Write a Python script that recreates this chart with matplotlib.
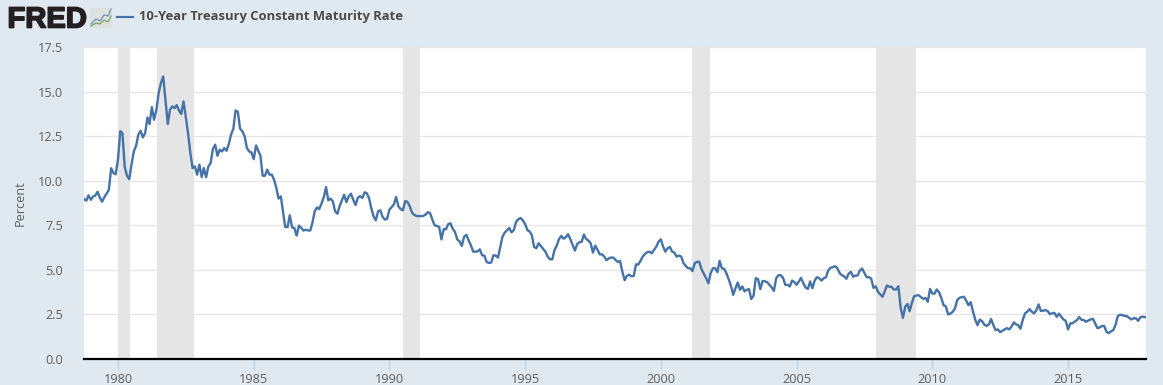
import matplotlib
matplotlib.use("Agg")
import matplotlib.pyplot as plt
import matplotlib.patheffects as pe
from matplotlib.lines import Line2D
from matplotlib.patches import Rectangle
import pandas as pd

W, H = 1163, 385
BG = "#e1e9f0"
LINE = "#4572a7"

start_month = "1978-10-01"
rates_a = [8.97,8.88,9.18,8.93,9.12,9.16,9.38,9.07,8.82,9.07,9.27,9.5,10.7,10.43,10.36,11.18,12.78,12.67,10.77,10.28,
 10.09,10.9,11.64,11.96,12.58,12.8,12.43,12.67,13.55,13.18,14.13,13.42,13.98,14.9,15.48,15.85,14.54,13.18,13.98,14.17,
 14.07,14.24,13.94,13.74,14.45,13.6,12.67,11.55,10.71,10.8,10.34,10.9,10.2,10.71,10.2,10.8,10.99,11.78,12.02,11.4,
 11.74,11.64,11.83,11.68,12.07,12.58,12.9,13.94,13.87,12.92,12.77,12.49,11.83,11.64,11.59,11.21,11.98,11.7,11.4,10.28,
 10.28,10.62,10.34,10.34,10.06,9.6,9.0,9.12,8.19,7.4,7.4,8.06,7.38,7.35,6.92,7.48,7.36,7.2,7.25,7.21]
rates_b = [7.21,7.63,8.28,8.5,8.41,8.71,9.07,9.64,8.9,9.0,8.84,8.28,8.15,8.56,8.9,9.21,8.8,9.12,9.27,8.93,
 8.64,9.03,9.14,9.03,9.35,9.3,9.03,8.47,8.0,7.78,8.28,8.34,7.96,7.82,7.87,8.38,8.53,8.66,9.09,8.57,
 8.4,8.34,8.86,8.81,8.57,8.21,8.08,8.02,8.02,8.02,8.02,8.1,8.23,8.19,7.82,7.5,7.46,7.41,6.71,7.28,
 7.28,7.56,7.61,7.31,7.13,6.71,6.6,6.34,6.85,6.96,6.66,6.38,6.02,6.02,6.04,6.15,5.82,5.8,5.44,5.39,
 5.41,5.82,5.8,5.69,6.29,6.85,7.09,7.22,7.35,7.11,7.22,7.69,7.84,7.91,7.78,7.56,7.22,7.16,6.94,6.29]
rates_c = [6.21,6.49,6.34,6.17,6.02,5.74,5.59,5.59,6.12,6.36,6.73,6.9,6.75,6.83,7.0,6.71,6.4,6.08,6.45,6.55,
 6.58,6.98,6.73,6.64,6.49,5.97,6.36,6.12,5.87,5.87,5.74,5.54,5.65,5.69,5.69,5.56,5.44,5.5,4.9,4.42,
 4.66,4.73,4.64,4.66,5.31,5.29,5.5,5.74,5.89,5.99,6.02,5.93,6.12,6.3,6.58,6.71,6.3,6.02,6.21,6.29,
 6.02,5.97,5.74,5.8,5.74,5.37,5.22,5.09,5.09,4.93,5.37,5.45,5.45,5.04,4.78,4.53,4.25,4.81,5.09,5.09,
 4.87,5.5,5.09,5.06,4.81,4.48,4.1,3.6,3.97,4.29,3.88,4.07,3.79,3.88,3.92,3.37,3.54,4.53,4.48,3.92]
rates_d = [4.38,4.36,4.31,4.16,4.01,3.82,4.53,4.7,4.7,4.57,4.16,4.16,4.07,4.4,4.31,4.16,4.35,4.55,4.25,4.01,
 3.93,4.35,3.97,4.4,4.59,4.53,4.4,4.53,4.59,4.96,5.11,5.15,5.2,5.11,4.83,4.7,4.64,4.5,4.78,4.89,
 4.61,4.68,4.68,4.96,5.07,4.83,4.59,4.59,4.51,3.99,4.08,3.77,3.62,3.49,3.8,4.12,4.05,4.05,3.9,3.9,
 4.08,2.87,2.31,2.93,3.09,2.68,3.15,3.52,3.56,3.58,3.47,3.37,3.43,3.21,3.93,3.67,3.67,3.9,3.75,3.43,
 3.02,2.96,2.5,2.55,2.64,2.83,3.3,3.43,3.47,3.49,3.28,3.02,3.19,2.68,2.21,1.9,2.21,2.12,1.93]
rates_e = [1.86,1.94,2.24,1.9,1.62,1.66,1.51,1.58,1.66,1.73,1.66,1.81,2.05,1.94,1.9,1.7,2.18,2.56,2.65,2.8,
 2.65,2.56,2.74,3.06,2.69,2.71,2.74,2.69,2.52,2.56,2.59,2.37,2.54,2.37,2.22,2.14,1.66,2.0,2.0,2.09,
 2.18,2.35,2.2,2.18,2.09,2.16,2.22,2.26,2.0,1.73,1.77,1.85,1.85,1.53,1.45,1.55,1.62,1.92,2.41,2.48,
 2.46,2.41,2.41,2.31,2.22,2.28,2.29,2.14,2.35,2.37,2.35]
rates = rates_a + rates_b + rates_c + rates_d + rates_e

recession_starts = ["1980-01-01","1981-06-15","1990-07-01","2001-03-01","2007-12-01"]
recession_ends = ["1980-06-15","1982-10-20","1991-02-20","2001-10-20","2009-05-20"]
y_ticks = [0,2.5,5,7.5,10,12.5,15,17.5]
x_tick_years = [1980,1985,1990,1995,2000,2005,2010,2015]
series_name = "10-Year Treasury Constant Maturity Rate"

dates = pd.date_range(start_month, periods=len(rates), freq="MS")

fig = plt.figure(figsize=(W/100, H/100), dpi=100, facecolor=BG)
ax = fig.add_axes([84/W, 1-359/H, (1146-84)/W, (359-47)/H], facecolor="white")

for s, e in zip(recession_starts, recession_ends):
    ax.axvspan(pd.Timestamp(s), pd.Timestamp(e), color="#e5e5e5", lw=0, zorder=1)
ax.plot(dates, rates, color=LINE, lw=1.7, solid_joinstyle="round", zorder=3)

ax.set_xlim(pd.Timestamp("1978-10-01"), pd.Timestamp("2017-11-15"))
ax.set_ylim(0, 17.5)
ax.set_yticks(y_ticks)
ax.set_yticklabels([f"{v:.1f}" for v in y_ticks], fontsize=9.2, color="#606060", family="Open Sans")
ax.set_xticks([pd.Timestamp(f"{y}-01-01") for y in x_tick_years])
ax.set_xticklabels([str(y) for y in x_tick_years], fontsize=9.2, color="#606060", family="Open Sans")
ax.grid(axis="y", color="#e6e6e6", lw=1, zorder=0)
ax.set_axisbelow(True)
ax.tick_params(axis="y", length=0, pad=15)
ax.tick_params(axis="x", length=7, width=1, color="#c0d0e0", pad=3)
for side in ["top", "right", "left"]:
    ax.spines[side].set_visible(False)
ax.spines["bottom"].set_color("black")
ax.spines["bottom"].set_linewidth(1.6)
ax.spines["bottom"].set_zorder(5)
ax.set_ylabel("Percent", fontsize=9.2, color="#606060", family="Open Sans")
ax.yaxis.set_label_coords((27-84)/(1146-84), 0.5)

def fx(x): return x/W
def fy(y): return 1-y/H

fig.text(fx(7.5), fy(27.5), "FRED", fontsize=21, fontweight="bold", family="Liberation Sans",
         color="#231f20", path_effects=[pe.withStroke(linewidth=1.2, foreground="#231f20")])
fig.add_artist(Rectangle((fx(90), fy(28)), 22/W, 20/H, transform=fig.transFigure,
                         facecolor="#dce0de", edgecolor="none"))
fig.add_artist(Line2D([fx(p) for p in (91,96,100,104,108,111)], [fy(p) for p in (24,19,21,15,16,9)],
                      color="#6f93b5", lw=0.9, transform=fig.transFigure))
fig.add_artist(Line2D([fx(p) for p in (91,96,100,104,108,111)], [fy(p) for p in (26,23,24,20,22,16)],
                      color="#7da35a", lw=0.9, transform=fig.transFigure))
fig.add_artist(Line2D([fx(117), fx(133)], [fy(16.5), fy(16.5)], color=LINE, lw=1.5, transform=fig.transFigure))
fig.text(fx(139), fy(16.5), series_name, fontsize=9.4, fontweight="bold", family="Open Sans",
         color="#4a4a4a", va="center", ha="left")

fig.savefig("out.png", dpi=100, facecolor=BG)
